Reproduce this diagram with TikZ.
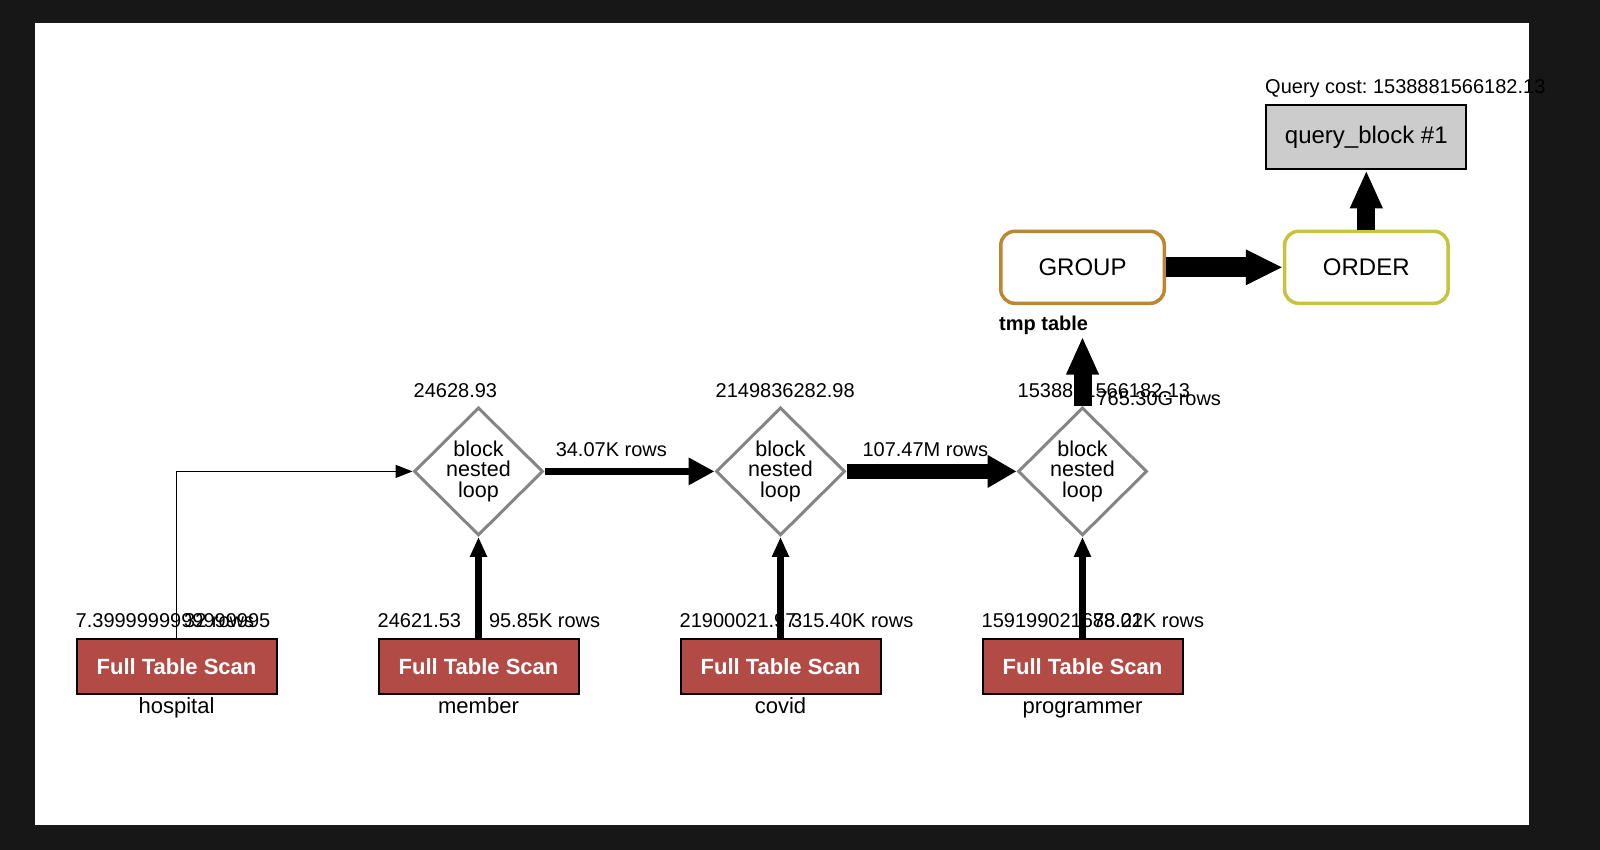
\documentclass[tikz,border=0pt]{standalone}
\usepackage{fontspec}
\setmainfont{Liberation Sans}
\frenchspacing
\usetikzlibrary{arrows.meta,shapes.geometric}
\definecolor{pagedark}{HTML}{171717}
\definecolor{scanred}{HTML}{B24A46}
\definecolor{loopgray}{HTML}{858585}
\definecolor{groupbrown}{HTML}{BD8731}
\definecolor{orderolive}{HTML}{C6C33E}
\definecolor{blockgray}{HTML}{CCCCCC}
\begin{document}
\begin{tikzpicture}[x=1pt, y=-1pt,
	scanbox/.style={rectangle, draw=black, line width=2pt, fill=scanred, text=white, minimum width=200pt, minimum height=55pt, inner sep=0pt, font=\bfseries\fontsize{22}{26}\selectfont},
	loopnode/.style={diamond, draw=loopgray, line width=3pt, fill=white, minimum width=129pt, minimum height=128pt, inner sep=0pt, align=center, font=\fontsize{21.5}{20.5}\selectfont},
	opbox/.style={rectangle, rounded corners=14pt, line width=3.5pt, fill=white, minimum width=163.5pt, minimum height=72pt, font=\fontsize{24}{28}\selectfont},
	txt/.style={inner sep=0pt, font=\fontsize{20}{24}\selectfont},
	costlabel/.style={txt, anchor=base west},
	tblname/.style={inner sep=0pt, anchor=base, font=\fontsize{22}{26}\selectfont},
	thinflow/.style={line width=1.3pt, -{Triangle[length=17pt,width=13pt]}},
	scanflow/.style={line width=7pt, -{Triangle[length=20pt,width=16pt]}},
	joinflow/.style={line width=7.5pt, -{Triangle[length=26pt,width=26pt]}},
	widejoin/.style={line width=15pt, -{Triangle[length=29pt,width=31pt]}},
	bigflow/.style={line width=18pt, -{Triangle[length=38pt,width=30pt]}}]
		%page
		\fill[pagedark] (0,0) rectangle (1600,850);
		\fill[white] (35,23) rectangle (1529,825);
		
		%table scans
		\foreach \n/\x/\tbl/\cost in {1/176.5/hospital/7.3999999999999995, 2/478.5/member/24621.53, 3/780.5/covid/21900021.97, 4/1082.5/programmer/159199021688.02}{
			\node[scanbox] (scan\n) at (\x, 666.3){Full Table Scan};
			\node[tblname] (tbl\n) at (\x, 713.5){\tbl};
			\node[costlabel] (scost\n) at (\x-101, 627.5){\cost};
		}
		
		%joins
		\foreach \n/\x/\cost in {1/478.5/24628.93, 2/780.5/2149836282.98, 3/1082.5/1538881566182.13}{
			\node[loopnode] (loop\n) at (\x, 471.4){block\\nested\\loop};
			\node[costlabel] (lcost\n) at (\x-65, 397){\cost};
		}
		
		%operations
		\node[opbox, draw=groupbrown] (group) at (1082.5, 267.3){GROUP};
		\node[opbox, draw=orderolive] (order) at (1366.3, 267.3){ORDER};
		\node[rectangle, draw=black, line width=2pt, fill=blockgray, minimum width=200pt, minimum height=64pt, font=\fontsize{24}{28}\selectfont] (qblock) at (1366.3, 137.3){query\_block \#1};
		\node[inner sep=0pt, anchor=base west, font=\bfseries\fontsize{20}{24}\selectfont] (tmp) at (999, 330){tmp table};
		\node[costlabel] (qcost) at (1265, 94){Query cost: 1538881566182.13};
		
		%flows
		\draw[thinflow] (scan1.north) |- (loop1.west) node[txt, pos=0, anchor=base west, xshift=7pt, yshift=10.3pt]{32 rows};
		\draw[scanflow] (scan2) -- (loop1) node[txt, pos=0, anchor=base west, xshift=7pt, yshift=10.3pt]{95.85K rows};
		\draw[scanflow] (scan3) -- (loop2) node[txt, pos=0, anchor=base west, xshift=7pt, yshift=10.3pt]{315.40K rows};
		\draw[scanflow] (scan4) -- (loop3) node[txt, pos=0, anchor=base west, xshift=7pt, yshift=10.3pt]{78.21K rows};
		\draw[joinflow] (loop1) -- (loop2) node[txt, pos=0, anchor=base west, xshift=7.5pt, yshift=15pt]{34.07K rows};
		\draw[widejoin] (loop2) -- (loop3) node[txt, pos=0, anchor=base west, xshift=8.5pt, yshift=15pt]{107.47M rows};
		\draw[bigflow, shorten >=31.5pt] (loop3) -- (group) node[txt, pos=0, anchor=base west, xshift=5pt, yshift=0pt]{765.30G rows};
		\draw[bigflow, line width=20pt, -{Triangle[length=37pt,width=33pt]}] (group) -- (order);
		\draw[bigflow] (order) -- (qblock);
\end{tikzpicture}
\end{document}
